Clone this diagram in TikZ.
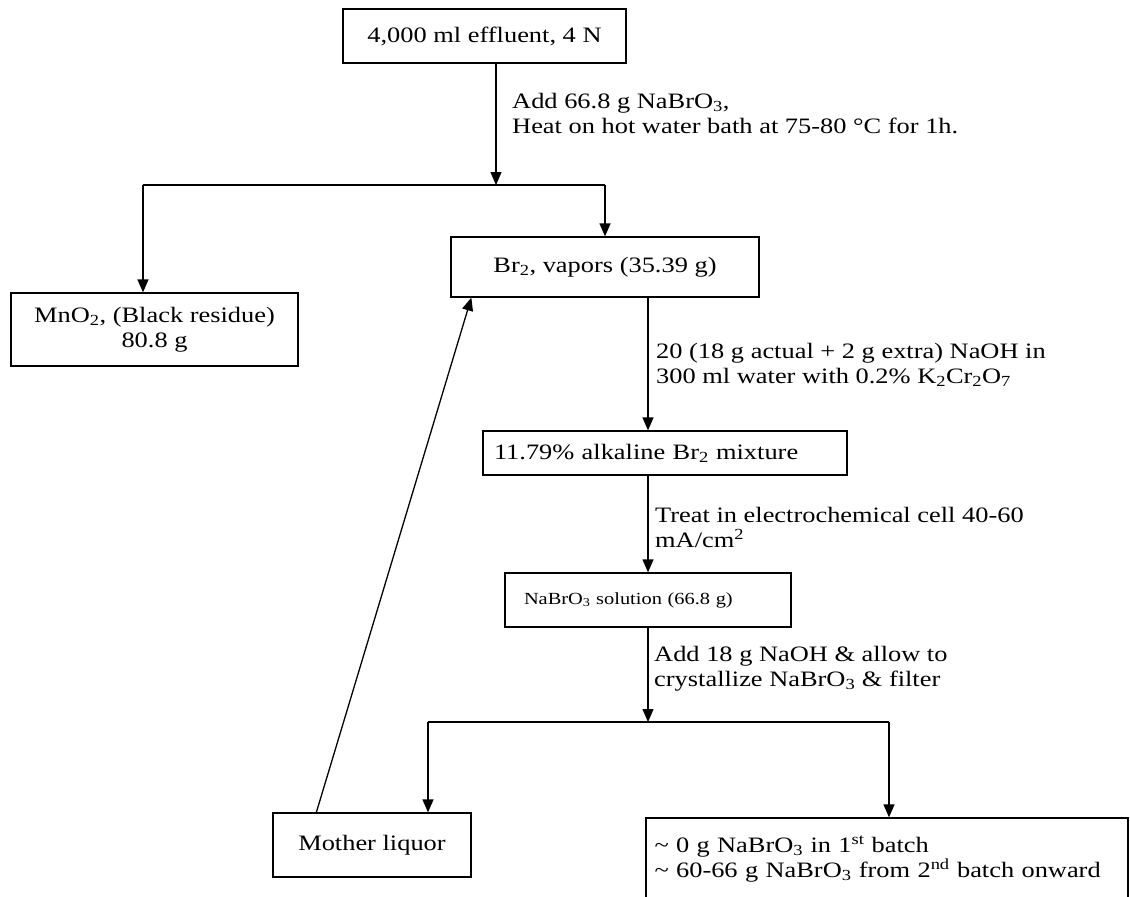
\documentclass[tikz,border=0pt]{standalone}
\usepackage{fontspec}
\setmainfont{Liberation Serif}[FakeStretch=1.2]
\usetikzlibrary{arrows.meta, positioning, calc}

\begin{document}
\begin{tikzpicture}[x=1pt, y=-1pt,
  box/.style={draw, line width=1.3pt, inner sep=0pt, align=center,
              font=\fontsize{22}{25}\selectfont},
  lbl/.style={anchor=west, inner sep=0pt, align=left,
              font=\fontsize{22}{25}\selectfont},
  link/.style={line width=1.3pt},
  arr/.style={line width=1.3pt, -{Triangle[width=11pt, length=13pt]}},
]
\useasboundingbox (0,0) rectangle (1130,897);
\clip (0,0) rectangle (1130,897);

% Effluent
\node[box, minimum width=283pt, minimum height=54pt] (eff) at (484.5,36) {4,000 ml effluent, 4 N};
\coordinate (j1) at (496,185);
\draw[arr] (eff.south -| j1) -- (j1);
\node[lbl] (l1) at (512,113.5) {Add 66.8 g NaBrO\textsubscript{3},\\Heat on hot water bath at 75-80 °C for 1h.};

% First split
\node[box, minimum width=287pt, minimum height=73pt] (mno) at (154.5,329.5) {MnO\textsubscript{2}, (Black residue)\\80.8 g};
\node[box, minimum width=308pt, minimum height=60pt] (br) at (605,267) {Br\textsubscript{2}, vapors (35.39 g)};
\coordinate (jl) at (143,185);
\coordinate (jr) at (605,185);
\draw[link] (jl) -- (jr);
\draw[arr] (jl) -- (jl |- mno.north);
\draw[arr] (jr) -- (br.north);

% Absorption
\coordinate (spine) at (648,0);
\node[box, minimum height=44pt, text width=342pt, inner xsep=11pt, align=left] (alk) at (665,453) {11.79\% alkaline Br\textsubscript{2} mixture};
\draw[arr] (br.south -| spine) -- (alk.north -| spine);
\node[lbl] (l2) at (656,364.5) {20 (18 g actual + 2 g extra) NaOH in\\300 ml water with 0.2\% K\textsubscript{2}Cr\textsubscript{2}O\textsubscript{7}};

% Electrolysis
\node[box, minimum height=54pt, text width=248pt, inner xsep=19pt, align=left,
      font=\fontsize{17}{20}\selectfont] (sol) at (648,600) {NaBrO\textsubscript{3} solution (66.8 g)};
\draw[arr] (alk.south -| spine) -- (sol.north);
\node[lbl] (l3) at (655,527) {Treat in electrochemical cell 40-60\\mA/cm\textsuperscript{2}};

% Crystallization
\coordinate (j2) at (648,722);
\draw[arr] (sol.south) -- (j2);
\node[lbl] (l4) at (654,669) {Add 18 g NaOH \& allow to\\crystallize NaBrO\textsubscript{3} \& filter};

% Second split
\node[box, minimum width=198pt, minimum height=64pt] (ml) at (372,845) {Mother liquor};
\node[box, minimum height=82pt, text width=465pt, inner xsep=8.5pt, align=left] (prod) at (887,859)
{\textasciitilde{} 0 g NaBrO\textsubscript{3} in 1\textsuperscript{st} batch\\
\textasciitilde{} 60-66 g NaBrO\textsubscript{3} from 2\textsuperscript{nd} batch onward};
\coordinate (jl2) at (428,722);
\coordinate (jr2) at (889,722);
\draw[link] (jl2) -- (jr2);
\draw[arr] (jl2) -- (jl2 |- ml.north);
\draw[arr] (jr2) -- (jr2 |- prod.north);

% Recycle
\coordinate (fb0) at ([xshift=44pt]ml.north west);
\coordinate (fb1) at ([xshift=21pt]br.south west);
\draw[arr] (fb0) -- (fb1);
\end{tikzpicture}
\end{document}
